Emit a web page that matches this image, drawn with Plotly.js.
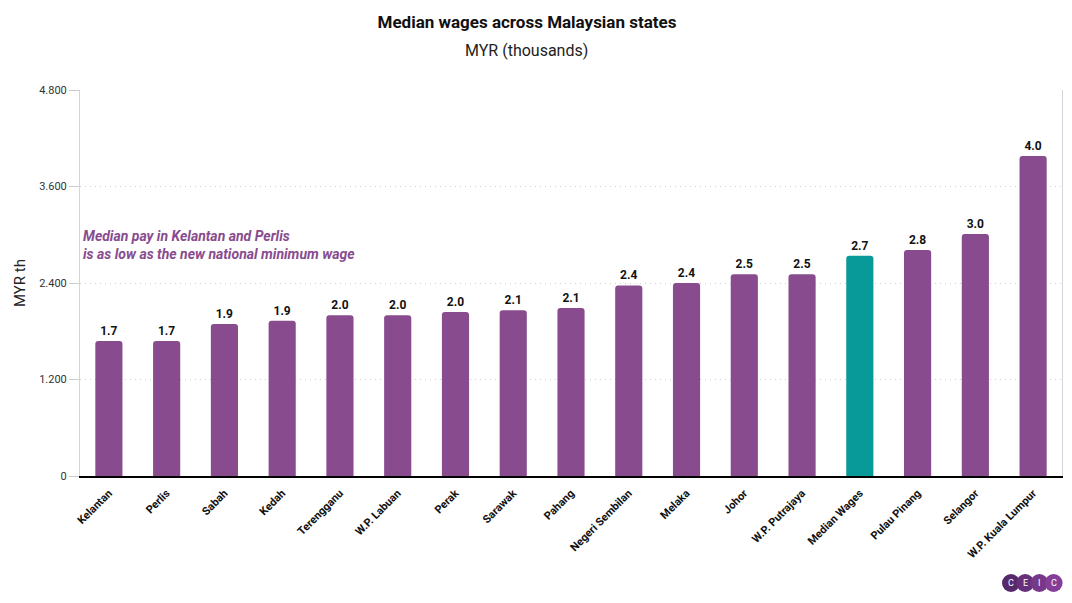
<!DOCTYPE html>
<html>
<head>
<meta charset="utf-8">
<script src="https://cdn.plot.ly/plotly-3.0.1.min.js"></script>
<style>html,body{margin:0;padding:0;background:#fff;}#chart{width:1072px;height:603px;}</style>
</head>
<body>
<div id="chart"></div>
<script>
const categories = ["Kelantan","Perlis","Sabah","Kedah","Terengganu","W.P. Labuan","Perak","Sarawak","Pahang","Negeri Sembilan","Melaka","Johor","W.P. Putrajaya","Median Wages","Pulau Pinang","Selangor","W.P. Kuala Lumpur"];
const wages = [1.68,1.68,1.89,1.93,2.00,2.00,2.04,2.06,2.09,2.37,2.40,2.51,2.51,2.74,2.81,3.01,3.98];
const highlight = "Median Wages";
const tickValues = [0,1.2,2.4,3.6,4.8];
const tickLabels = ["0","1.200","2.400","3.600","4.800"];

const purple = "#884C8E";
const teal = "#079A98";

const trace = {
  type: "bar",
  x: categories,
  y: wages,
  marker: {color: categories.map(c => c === highlight ? teal : purple)},
  text: wages.map(v => v.toFixed(1)),
  textposition: "outside",
  cliponaxis: false,
  textfont: {family: "Roboto", size: 12, color: "#111", weight: "bold"},
  hoverinfo: "x+y"
};

// CEIC logo circles
const logoColors = ["#55296B","#66307A","#773889","#843E97"];
const logoLetters = ["C","E","I","C"];
const shapes = [];
const annotations = [{
  xref: "paper", yref: "y", x: 0.001, y: 2.87, xanchor: "left", yanchor: "middle", align: "left",
  showarrow: false,
  text: "Median pay in Kelantan and Perlis<br>is as low as the new national minimum wage",
  font: {family: "Roboto", size: 14, color: "#884C8E", style: "italic", weight: "bold"}
},{
  xref: "paper", yref: "paper", x: 0.455, y: 1, yshift: 40, xanchor: "center", yanchor: "middle",
  showarrow: false, text: "MYR (thousands)",
  font: {family: "Roboto", size: 16, color: "#222"}
}];
const plotW = 982, plotH = 386, left = 80, bottom = 476;
logoLetters.forEach((l, i) => {
  const cx = 1011 + i * 14.2, cy = 583, r = 9;
  const px = v => (v - left) / plotW, py = v => (bottom - v) / plotH;
  shapes.push({type: "circle", xref: "paper", yref: "paper",
    x0: px(cx - r), x1: px(cx + r), y0: py(cy + r), y1: py(cy - r),
    fillcolor: logoColors[i], line: {width: 0}, layer: "above"});
  annotations.push({xref: "paper", yref: "paper", x: px(cx), y: py(cy), showarrow: false,
    text: l, font: {family: "Roboto", size: 9, color: "#fff"}, xanchor: "center", yanchor: "middle"});
});

const layout = {
  width: 1072, height: 603,
  margin: {l: 80, r: 10, t: 90, b: 127},
  paper_bgcolor: "#fff", plot_bgcolor: "#fff",
  font: {family: "Roboto", color: "#222"},
  title: {text: "<b>Median wages across Malaysian states</b>", x: 0.4916, xanchor: "center",
    y: 0.963, yref: "container", yanchor: "middle",
    font: {family: "Roboto", size: 17, color: "#111"}},
  bargap: 0.53,
  barcornerradius: 3,
  showlegend: false,
  xaxis: {
    type: "category",
    tickangle: -45,
    tickfont: {family: "Roboto", size: 11, color: "#111", weight: "bold"},
    showline: true, linecolor: "#000", linewidth: 1.5,
    showgrid: false, ticks: "", automargin: false, ticklabelstandoff: 5
  },
  yaxis: {
    range: [0, 4.8],
    tickvals: tickValues, ticktext: tickLabels,
    tickfont: {family: "Roboto", size: 11, color: "#333"},
    ticks: "outside", ticklen: 10, tickcolor: "#ccc",
    showline: true, linecolor: "#d4d4dc", linewidth: 1, mirror: true,
    showgrid: true, gridcolor: "#cfcfcf", griddash: "1px,4px", gridwidth: 1,
    zeroline: false,
    title: {text: "MYR th", font: {family: "Roboto", size: 15, color: "#222"}, standoff: 9},
    automargin: false
  },
  shapes: shapes,
  annotations: annotations
};

Plotly.newPlot("chart", [trace], layout, {displayModeBar: false, staticPlot: true});
</script>
</body>
</html>
